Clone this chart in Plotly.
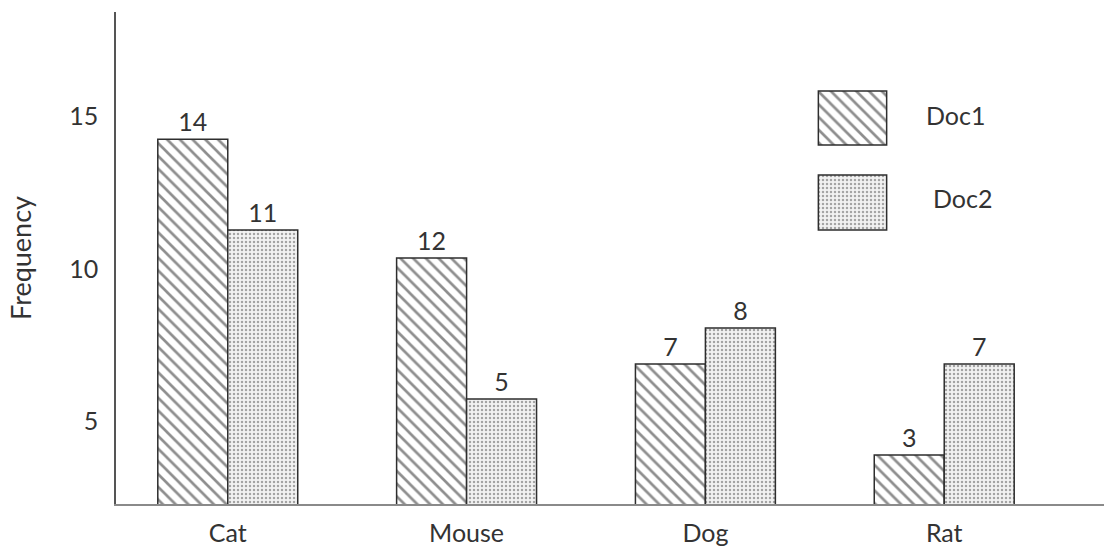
import plotly.graph_objects as go

categories = ["Cat", "Mouse", "Dog", "Rat"]
doc1_values = [14.25, 10.35, 6.88, 3.89]
doc2_values = [11.27, 5.73, 8.06, 6.88]
doc1_labels = ["14", "12", "7", "3"]
doc2_labels = ["11", "5", "8", "7"]
series_names = ["Doc1", "Doc2"]
y_ticks = [5, 10, 15]

FONT = "Lato"
TXT = "#333333"
BAR_W = 0.293

doc1_pattern = dict(shape="\\", fgcolor="#1e1e1e", bgcolor="white", size=9, solidity=0.3)
doc2_pattern = dict(shape=".", fgcolor="#555555", bgcolor="#f2f2f2", size=4, solidity=0.3)
outline = dict(color="#2e2e2e", width=1.5)

fig = go.Figure()
fig.add_trace(go.Bar(
    x=categories, y=doc1_values, name=series_names[0],
    width=BAR_W, offset=-BAR_W,
    marker=dict(color="white", pattern=doc1_pattern, line=outline),
    text=doc1_labels, textposition="outside", cliponaxis=False,
    textfont=dict(family=FONT, size=25, color=TXT),
    showlegend=False,
))
fig.add_trace(go.Bar(
    x=categories, y=doc2_values, name=series_names[1],
    width=BAR_W, offset=0,
    marker=dict(color="#f2f2f2", pattern=doc2_pattern, line=outline),
    text=doc2_labels, textposition="outside", cliponaxis=False,
    textfont=dict(family=FONT, size=25, color=TXT),
    showlegend=False,
))

# legend swatches drawn as bars on small auxiliary axes
fig.add_trace(go.Bar(x=[0], y=[1], width=1, xaxis="x2", yaxis="y2", showlegend=False,
                     marker=dict(color="white", pattern=doc1_pattern, line=outline),
                     hoverinfo="skip"))
fig.add_trace(go.Bar(x=[0], y=[1], width=1, xaxis="x3", yaxis="y3", showlegend=False,
                     marker=dict(color="#f2f2f2", pattern=doc2_pattern, line=outline),
                     hoverinfo="skip"))

aux_axis = dict(visible=False, fixedrange=True, showgrid=False, zeroline=False)

fig.update_layout(
    width=1104, height=553,
    margin=dict(l=116, r=0, t=12, b=49),
    paper_bgcolor="white", plot_bgcolor="white",
    font=dict(family=FONT, size=25, color=TXT),
    barmode="overlay",
    xaxis=dict(
        type="category", range=[-0.468, 3.669],
        showline=True, linecolor="#8a8a8a", linewidth=2,
        showgrid=False, zeroline=False, ticks="",
        tickfont=dict(family=FONT, size=25, color=TXT),
        ticklabelstandoff=6,
    ),
    yaxis=dict(
        range=[2.285, 18.42],
        tickvals=y_ticks,
        showline=True, linecolor="#555555", linewidth=1.5,
        showgrid=False, zeroline=False, ticks="",
        tickfont=dict(family=FONT, size=25, color=TXT),
        ticklabelstandoff=11,
        title=dict(text="Frequency", font=dict(family=FONT, size=27, color=TXT), standoff=30),
    ),
    xaxis2=dict(domain=[0.7095, 0.7814], range=[-0.52, 0.52], anchor="y2", **aux_axis),
    yaxis2=dict(domain=[0.7276, 0.8415], range=[-0.02, 1.02], anchor="x2", **aux_axis),
    xaxis3=dict(domain=[0.7095, 0.7814], range=[-0.52, 0.52], anchor="y3", **aux_axis),
    yaxis3=dict(domain=[0.5549, 0.6707], range=[-0.02, 1.02], anchor="x3", **aux_axis),
    annotations=[
        dict(text=series_names[0], xref="paper", yref="paper", x=0.850, y=0.7907,
             xanchor="center", yanchor="middle",
             showarrow=False, font=dict(family=FONT, size=25, color=TXT)),
        dict(text=series_names[1], xref="paper", yref="paper", x=0.8563, y=0.622,
             xanchor="center", yanchor="middle",
             showarrow=False, font=dict(family=FONT, size=25, color=TXT)),
    ],
)

fig.write_html(
    "out.html",
    config={"displayModeBar": False},
    post_script="document.body.style.margin='0';document.body.style.overflow='hidden';",
)
